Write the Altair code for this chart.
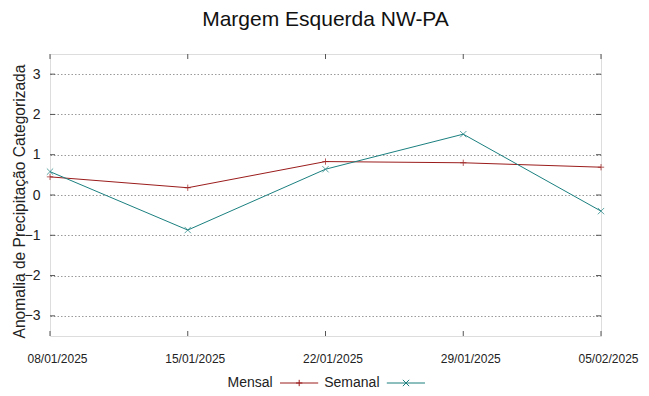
import altair as alt
import pandas as pd

# ---- data ----
dates = ["08/01/2025", "15/01/2025", "22/01/2025", "29/01/2025", "05/02/2025"]
mensal = [0.45, 0.18, 0.83, 0.80, 0.69]
semanal = [0.58, -0.87, 0.64, 1.51, -0.40]
series = ["Mensal", "Semanal"]
colors = ["#9b1c1c", "#1b7f7f"]
y_ticks = [-3, -2, -1, 0, 1, 2, 3]

title = "Margem Esquerda NW-PA"
y_title = "Anomalia de Precipitação Categorizada"

W, H = 551, 282
BORDER = "#555555"
REG = "Liberation Sans, Arial, sans-serif"
PLUS = "M-1,0H1M0,-1V1"
CROSS = "M-1,-1L1,1M-1,1L1,-1"
MSIZE = 40

df = pd.DataFrame({
    "date": dates * 2,
    "value": mensal + semanal,
    "serie": [series[0]] * len(dates) + [series[1]] * len(dates),
})
df_yt = pd.DataFrame({"value": y_ticks})
df_xt = pd.DataFrame({"date": dates})

x_enc = alt.X(
    "date:O", sort=dates,
    scale=alt.Scale(type="point", padding=0),
    axis=alt.Axis(title=None, labelAngle=0, labelFont=REG, labelFontSize=12,
                  labelColor="#222222", labelPadding=26, labelBaseline="alphabetic",
                  labelOffset=7, ticks=False, tickSize=0, domain=False, grid=False),
)
y_enc = alt.Y(
    "value:Q",
    scale=alt.Scale(domain=[-3.5, 3.5], nice=False, zero=False),
    axis=alt.Axis(values=y_ticks, format="d", title=y_title, grid=True,
                  gridDash=[1.5, 2], gridColor="#9a9a9a", gridWidth=1,
                  ticks=False, tickSize=0, domain=False, labelPadding=10,
                  labelFont=REG, labelFontSize=14, labelColor="#222222",
                  titleFont=REG, titleFontSize=15.6, titleFontWeight="normal",
                  titleColor="#222222", titleAngle=270, titleX=-31, titleY=147,
                  titleAlign="center", titleBaseline="middle"),
)

color_enc = alt.Color("serie:N", scale=alt.Scale(domain=series, range=colors), legend=None)
shape_enc = alt.Shape("serie:N", scale=alt.Scale(domain=series, range=[PLUS, CROSS]), legend=None)

lines = alt.Chart(df).mark_line(strokeWidth=1, clip=False).encode(
    x=x_enc, y=y_enc, color=color_enc, detail="serie:N")
points = alt.Chart(df).mark_point(filled=False, strokeWidth=1, size=MSIZE, clip=False).encode(
    x=x_enc, y=y_enc, color=color_enc, shape=shape_enc)

tick_l = alt.Chart(df_yt).mark_rule(color=BORDER, strokeWidth=1).encode(
    y=y_enc, x=alt.value(0), x2=alt.value(5))
tick_r = alt.Chart(df_yt).mark_rule(color=BORDER, strokeWidth=1).encode(
    y=y_enc, x=alt.value(W - 5), x2=alt.value(W))
tick_b = alt.Chart(df_xt).mark_rule(color=BORDER, strokeWidth=1).encode(
    x=x_enc, y=alt.value(H - 5), y2=alt.value(H))
tick_t = alt.Chart(df_xt).mark_rule(color=BORDER, strokeWidth=1).encode(
    x=x_enc, y=alt.value(0), y2=alt.value(5))

# ---- manual legend (label left of sample, as in the reference) ----
leg_layers = []
leg_text_right = [222.7, 329.5]
for i, name in enumerate(series):
    xr = leg_text_right[i]
    one = pd.DataFrame({"serie": [name]})
    leg_layers.append(alt.Chart(one).mark_text(
        text=name, align="right", baseline="alphabetic", font=REG, fontSize=14,
        color="#222222").encode(x=alt.value(xr), y=alt.value(332.5)))
    leg_layers.append(alt.Chart(one).mark_rule(color=colors[i], strokeWidth=1).encode(
        x=alt.value(xr + 7.3), x2=alt.value(xr + 45.5), y=alt.value(329)))
    leg_layers.append(alt.Chart(one).mark_point(
        shape=[PLUS, CROSS][i], filled=False, size=MSIZE, strokeWidth=1,
        color=colors[i], opacity=1).encode(x=alt.value(xr + 26.5), y=alt.value(329)))

chart = alt.layer(lines, points, tick_l, tick_r, tick_b, tick_t, *leg_layers).properties(
    width=W, height=H,
    title=alt.TitleParams(title, font=REG, fontSize=21, fontWeight="normal",
                          color="#111111", anchor="middle", baseline="alphabetic",
                          offset=7),
    autosize=alt.AutoSizeParams(type="none"),
    padding={"left": 42, "top": 46, "right": 40, "bottom": 52},
).configure_view(stroke=BORDER, strokeWidth=1).configure(background="white")

chart.save("out.html", embed_options={"renderer": "svg", "actions": False})
